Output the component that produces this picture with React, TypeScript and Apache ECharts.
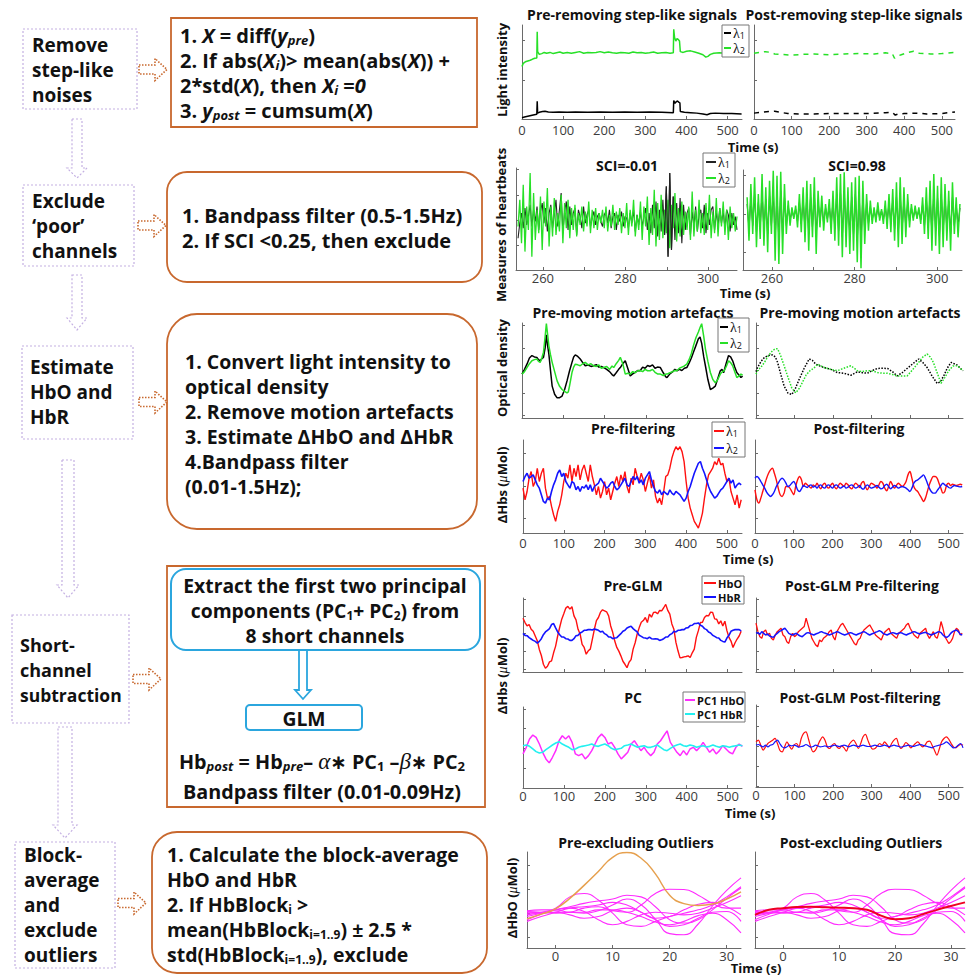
import React, { useEffect, useRef } from "react";
import * as echarts from "echarts";

const FONT = "'Open Sans', 'Noto Sans', 'DejaVu Sans', sans-serif";
const SERIF = "'Liberation Serif', 'DejaVu Serif', serif";

// ---------------- tick values ----------------
const TIME_TICKS = [0, 100, 200, 300, 400, 500];
const HEART_TICKS = [260, 270, 280, 290, 300];
const HEART_LABELS = [260, 280, 300];
const BLOCK_TICKS = [0, 10, 20, 30];

// ---------------- row 1 : light intensity (time s, intensity a.u.) ----------------
const R1_PRE_L2 = [[0,1.34],[3,1.42],[8,1.46],[14,1.48],[20,1.5],[26,1.53],[31,1.55],[36,1.56],[37,2.23],[38,1.72],[42,1.65],[48,1.67],[54,1.7],[60,1.68],[68,1.7],[76,1.67],[84,1.69],[92,1.71],[100,1.68],[110,1.7],[120,1.68],[130,1.7],[140,1.72],[150,1.68],[160,1.7],[170,1.69],[180,1.7],[190,1.72],[200,1.69],[210,1.71],[220,1.69],[230,1.68],[240,1.7],[250,1.69],[260,1.68],[270,1.71],[280,1.69],[290,1.7],[300,1.68],[310,1.69],[320,1.71],[330,1.68],[340,1.69],[350,1.7],[360,1.68],[368,1.69],[369,2.29],[371,2.08],[374,1.99],[377,2.05],[380,2.03],[383,1.99],[385,1.72],[392,1.7],[400,1.73],[410,1.74],[420,1.71],[430,1.68],[440,1.64],[447,1.58],[452,1.6],[458,1.65],[466,1.68],[480,1.69],[495,1.68],[510,1.69],[534,1.68]];
const R1_PRE_L1 = [[0,0.03],[6,0.05],[14,0.07],[22,0.09],[30,0.11],[36,0.12],[37,0.45],[38,0.15],[42,0.17],[50,0.19],[56,0.2],[64,0.18],[76,0.17],[90,0.18],[110,0.17],[130,0.18],[160,0.17],[190,0.18],[220,0.17],[250,0.18],[280,0.17],[310,0.18],[340,0.17],[368,0.16],[369,0.47],[372,0.4],[375,0.44],[378,0.46],[381,0.43],[384,0.41],[385,0.19],[395,0.17],[410,0.16],[425,0.15],[440,0.13],[450,0.11],[458,0.14],[470,0.15],[490,0.14],[510,0.14],[534,0.13]];
const R1_POST_L2 = [[0,1.68],[15,1.7],[30,1.72],[45,1.7],[55,1.66],[70,1.65],[100,1.63],[130,1.65],[160,1.66],[200,1.64],[240,1.66],[280,1.67],[320,1.66],[350,1.69],[368,1.67],[374,1.55],[380,1.6],[392,1.64],[410,1.7],[425,1.73],[440,1.68],[470,1.66],[500,1.67],[535,1.7]];
const R1_POST_L1 = [[0,0.15],[20,0.17],[40,0.19],[55,0.2],[70,0.17],[90,0.14],[120,0.13],[160,0.13],[200,0.14],[250,0.14],[300,0.14],[350,0.16],[368,0.17],[376,0.1],[385,0.13],[400,0.14],[430,0.15],[460,0.13],[500,0.14],[535,0.18]];

// ---------------- row 2 : heartbeat band (evenly sampled over a time span) ----------------
const R2_PRE_SPAN = [254, 307];
const R2_PRE_L1 = [-55,-10,20,-25,35,-15,10,45,-20,30,-5,40,-30,25,50,-10,35,-35,20,45,-25,15,60,-20,30,80,-40,25,55,-30,40,-15,20,35,-45,30,10,-25,40,-10,15,30,-20,5,25,-15,10,20,-5,-20,15,25,-10,30,-25,10,20,-30,15,-5,25,-20,10,5,-25,20,-10,30,-35,15,-15,25,-20,10,35,-30,20,-40,45,-25,55,-50,30,-35,60,-45,100,-110,140,-90,70,-60,50,-40,65,-70,45,-30,20,35,-45,25,-20,40,-35,15,30,-25,45,-40,20,-15,30,40,-30,25,-20,35,-10,25,-25,30,15,-35,20,-15,10,-30];
const R2_PRE_L2 = [-20,60,-70,105,-95,40,-30,140,-110,80,-60,30,-40,70,-90,55,-20,95,-80,40,-50,65,-45,20,-35,75,-70,50,-25,60,-55,35,-30,45,-50,20,-15,40,-35,25,-20,55,-40,30,-25,35,-30,20,-10,30,-25,40,-35,15,-20,45,-30,25,-15,35,-40,20,-25,50,-45,30,-20,60,-50,15,-30,55,-60,40,-20,70,-75,35,-45,90,-80,50,-60,75,-55,30,-40,60,-85,45,-25,80,-65,35,-50,55,-45,25,-30,40,-60,85,-50,30,-35,60,-40,20,-45,50,-30,75,-55,25,-40,65,-50,35,-20,55,-45,30,-60,40,-25,20,-35,10];
const R2_POST_SPAN = [254, 305.5];
const R2_POST_L1 = [30,-45,50,-35,60,-55,35,-40,65,-50,45,-60,55,-35,70,-75,60,-80,70,-65,50,-35,25,-20,12,-10,15,-22,35,-30,45,-48,55,-60,50,-40,60,-65,40,-25,30,-28,18,-15,25,-35,40,-45,60,-52,65,-70,68,-55,45,-65,52,-60,60,-80,62,-88,55,-50,35,-28,22,-18,12,-15,20,-12,10,-18,22,-25,35,-30,42,-45,52,-55,60,-50,45,-38,35,-22,18,-12,15,-10,12,-18,28,-35,45,-42,55,-60,65,-52,48,-65,60,-55,50,-45,40,-60,52,-35,28,-38,18];
const R2_POST_L2 = [50,-80,90,-60,110,-100,60,-75,120,-95,80,-115,100,-60,130,-140,115,-150,127,-120,90,-60,40,-35,20,-15,25,-40,60,-55,80,-85,100,-110,90,-70,110,-120,70,-40,55,-50,30,-25,45,-60,70,-80,110,-95,120,-130,125,-100,80,-120,95,-110,110,-145,115,-163,100,-90,60,-50,40,-30,20,-25,35,-20,15,-30,40,-45,60,-55,75,-80,95,-100,110,-90,80,-70,60,-40,30,-20,25,-15,20,-30,50,-60,80,-75,100,-110,120,-95,85,-120,110,-100,90,-80,70,-110,95,-60,50,-70,30];

// ---------------- row 3 : optical density (time s, OD a.u.) ----------------
const R3_PRE_L1 = [[0,1.84],[6,2.05],[12,2.28],[18,2.55],[24,2.66],[30,2.6],[36,2.58],[40,2.48],[44,2.43],[48,2.52],[52,2.58],[56,3.0],[59,3.58],[62,3.1],[65,2.73],[69,2.0],[73,1.31],[79,0.95],[85,0.79],[91,0.8],[97,0.87],[103,1.15],[109,1.54],[115,1.98],[121,2.36],[125,2.6],[129,2.69],[135,2.62],[141,2.51],[147,2.35],[153,2.21],[160,2.24],[167,2.18],[173,2.21],[180,2.26],[186,2.15],[192,2.18],[198,2.13],[205,2.05],[212,1.95],[218,1.82],[222,1.76],[228,1.9],[234,2.05],[238,2.13],[244,2.3],[250,2.43],[256,2.1],[262,1.76],[268,1.85],[274,1.92],[280,2.0],[286,1.99],[292,2.15],[298,2.1],[304,2.22],[310,2.18],[316,2.25],[322,2.1],[328,2.15],[335,2.13],[342,1.9],[348,1.72],[351,1.69],[358,1.85],[365,1.95],[370,2.05],[375,1.99],[381,2.05],[387,2.0],[393,2.1],[399,2.13],[405,2.35],[410,2.55],[415,2.81],[421,3.1],[427,3.4],[431,3.48],[435,3.2],[440,2.6],[444,2.21],[450,1.6],[456,1.16],[462,1.22],[468,1.31],[474,1.65],[480,1.99],[484,2.05],[488,1.9],[494,2.3],[500,2.66],[505,2.6],[510,2.43],[515,2.15],[520,1.91],[525,1.8],[530,1.69],[534,1.75]];
const R3_PRE_L2 = [[0,1.84],[6,1.95],[12,2.13],[18,2.3],[24,2.43],[30,2.48],[36,2.51],[40,2.4],[44,2.36],[48,2.55],[52,2.81],[56,3.5],[59,4.07],[62,3.6],[65,3.1],[69,2.7],[73,2.36],[79,1.95],[85,1.54],[91,1.3],[97,1.16],[103,1.08],[109,1.01],[112,1.05],[115,1.31],[121,1.91],[125,2.15],[129,2.28],[135,2.25],[141,2.21],[147,2.3],[153,2.36],[160,2.25],[167,2.3],[173,2.21],[180,2.18],[186,2.25],[192,2.1],[198,2.13],[205,2.18],[212,2.05],[218,2.2],[222,2.13],[228,2.3],[234,2.45],[238,2.58],[244,2.3],[250,1.84],[256,1.88],[262,1.84],[268,1.95],[274,1.9],[280,1.99],[286,2.0],[292,1.95],[298,2.05],[304,1.99],[310,1.99],[316,2.05],[322,1.92],[328,1.85],[335,1.84],[342,1.78],[348,1.84],[351,1.84],[358,1.9],[365,1.95],[370,2.0],[375,1.99],[381,2.1],[387,2.15],[393,2.2],[399,2.28],[405,2.5],[410,2.75],[415,3.1],[421,3.45],[427,3.7],[431,3.9],[435,4.07],[440,3.5],[444,2.96],[450,2.4],[456,1.91],[462,1.6],[468,1.46],[474,1.6],[480,1.84],[485,1.95],[490,2.0],[495,2.2],[500,2.43],[505,2.35],[510,2.21],[515,1.95],[520,1.69],[525,1.75],[530,1.84],[534,1.8]];
const R3_POST_L1 = [[0,1.95],[4,2.13],[13,2.4],[22,2.58],[32,2.66],[43,2.69],[50,2.6],[56,2.36],[64,1.85],[73,1.31],[83,1.0],[93,0.94],[102,1.2],[112,1.61],[125,2.1],[138,2.51],[146,2.45],[155,2.28],[166,2.2],[177,2.13],[194,2.05],[211,1.91],[228,1.88],[246,1.79],[263,1.94],[276,1.9],[289,1.88],[302,2.0],[315,2.09],[328,2.1],[341,2.09],[354,1.95],[366,1.76],[379,1.9],[392,2.09],[407,2.3],[422,2.51],[433,2.35],[444,2.13],[457,1.75],[470,1.43],[478,1.5],[487,1.76],[496,2.1],[506,2.36],[514,2.3],[522,2.24],[530,2.1],[537,1.99]];
const R3_POST_L2 = [[0,1.84],[4,1.99],[13,2.15],[22,2.36],[32,2.65],[43,2.88],[50,2.96],[56,2.96],[64,2.65],[73,2.21],[83,1.7],[93,1.22],[103,1.01],[112,1.2],[120,1.46],[130,1.8],[140,1.99],[150,2.1],[160,2.28],[177,2.13],[194,2.05],[211,1.99],[228,2.1],[246,2.21],[255,2.1],[263,1.99],[276,1.95],[289,1.99],[302,1.98],[315,1.91],[328,1.88],[341,1.88],[354,1.82],[366,1.76],[379,1.76],[392,1.76],[407,2.05],[422,2.36],[433,2.6],[444,2.73],[452,2.6],[460,2.36],[470,1.9],[480,1.43],[490,1.7],[500,1.99],[511,2.2],[522,2.21],[530,2.1],[537,1.99]];

// ---------------- row 4 : ΔHbs before / after filtering (one sample every 5 s) ----------------
const R4_DT = 5;
const R4_PRE_L1 = [-5,-40,-15,25,45,0,15,55,15,40,55,-5,-35,-30,-60,-85,-105,-75,-55,-25,15,40,25,65,15,55,30,65,20,50,65,40,15,65,30,5,-25,0,-35,-15,15,-25,-5,-40,-15,10,30,0,35,15,45,0,-20,25,5,55,30,15,40,20,-15,10,35,-5,20,-30,-50,-35,-55,-15,30,35,55,85,105,120,110,120,105,75,15,-35,-65,-85,-105,-115,-125,-105,-80,-35,5,35,45,55,75,65,85,65,70,40,15,25,-15,-35,-55,-25,-65,-40];
const R4_PRE_L2 = [15,30,40,25,30,35,20,5,-5,-25,-45,-50,-35,-40,-15,5,20,40,50,30,40,15,5,-5,15,10,-10,0,-15,0,-5,5,-10,5,-15,0,5,10,25,15,5,-5,0,10,15,0,-10,-5,5,15,25,5,0,15,30,20,30,10,20,5,25,35,45,20,0,-15,-20,-10,-25,-15,-20,-25,-10,-20,-25,-15,-20,-25,-35,-45,-35,-15,0,20,40,55,70,75,55,40,20,0,-15,-25,-35,-30,-20,-10,-5,5,15,25,10,20,-5,5,10,5];
const R4_POST_L1 = [-10,-40,-50,-35,-15,5,25,40,50,55,40,20,-5,-25,-30,-20,0,0,-5,-15,-25,0,20,30,20,0,10,5,0,-5,5,0,10,0,-7,5,10,0,-5,3,10,0,-7,2,10,5,0,10,5,-3,-7,3,10,5,-3,10,15,0,-10,0,10,7,3,-5,5,15,10,-5,-13,0,15,5,-5,3,10,5,0,5,15,35,45,25,0,-10,-15,-25,-35,-45,-35,-15,5,20,30,30,25,10,-5,-20,-15,5,10,3,7,5,3,5,7,5];
const R4_POST_L2 = [25,30,25,15,5,-5,-17,-25,-30,-25,-15,0,10,20,25,20,10,0,3,10,15,5,-10,-15,-7,3,0,-3,3,5,-2,2,-5,2,5,-2,-5,2,5,0,-5,2,5,0,-5,-2,2,-5,-2,3,5,0,-5,-2,3,-5,-8,0,5,0,-5,-3,0,3,-2,-7,-5,3,7,0,-7,-2,3,0,-5,-2,0,-2,-5,-10,-15,-5,10,17,20,25,30,35,25,10,-5,-15,-20,-20,-13,-5,3,10,5,2,-3,-5,0,3,1,0,-1,0];

// ---------------- row 5 : HbO / HbR before and after GLM (one sample every 5 s) ----------------
const R5_DT = 5;
const R5_PRE_HBO = [45,32,22,26,12,6,-8,-22,-48,-66,-92,-104,-98,-85,-82,-58,-38,-8,18,42,58,75,80,72,79,52,40,12,-2,-33,-42,-62,-52,-47,-18,12,38,47,63,70,67,64,52,22,3,-23,-42,-53,-67,-83,-92,-102,-86,-78,-47,-28,-2,17,33,38,47,32,57,48,62,63,58,68,67,76,86,68,57,28,12,-27,-52,-73,-72,-70,-69,-67,-72,-58,-47,-12,8,32,33,47,53,52,63,62,43,42,28,37,22,36,8,-12,-23,-42,-28,-17,-8,6];
const R5_PRE_HBR = [0,-6,-7,-13,-17,-21,-24,-29,-24,-16,-4,4,9,14,26,29,16,4,-4,-11,-11,-16,-17,-21,-21,-16,-7,-6,1,4,9,9,11,11,10,13,11,9,4,6,-1,-4,-11,-11,-16,-14,-13,-7,-1,6,9,16,19,21,14,9,4,-6,-9,-13,-14,-16,-11,-16,-17,-16,-17,-21,-19,-16,-11,-11,-4,-1,6,4,9,9,11,11,16,17,23,24,29,29,31,24,21,14,11,4,1,-6,-9,-13,-14,-21,-24,-26,-14,-6,6,9,11,11,11,7];
const R5_POST_HBO = [30,5,-10,-15,5,10,-5,0,-15,-20,-5,5,10,15,-5,-10,-25,-30,-10,0,-10,-5,5,10,15,20,45,25,5,-15,-25,-35,-40,-20,-25,-15,-10,-5,5,10,-10,-20,5,15,25,30,20,10,0,-10,-20,-30,-35,-20,-15,0,10,15,20,25,15,5,-5,-10,-15,-20,-5,5,10,15,0,-5,-10,-15,0,5,10,15,25,30,15,5,-5,-10,-15,0,5,10,15,-5,-15,-5,5,-10,-15,5,35,15,-10,-20,-30,-25,-15,5,15,10,-5,0];
const R5_POST_HBR = [0,2,-3,5,0,-5,-2,-8,-10,-12,-5,0,5,8,12,15,8,0,-3,-5,-2,0,-5,-8,-10,-5,0,2,0,-3,-5,-2,0,3,5,2,0,-2,-5,-3,0,2,5,3,0,-3,-5,-3,0,2,0,-3,-5,-2,0,3,5,2,-2,-5,-2,0,3,5,8,5,0,-3,-5,-2,0,2,0,-2,0,2,0,-3,-5,-2,0,3,5,3,0,-2,0,2,3,0,-3,-5,-2,0,3,5,2,-5,-10,-12,-8,0,5,8,10,5,-3,-5];

// ---------------- row 6 : principal components and post-GLM filtered signals ----------------
const R6_PC_DT = 8;
const R6_PC_HBO = [-17,3,28,40,33,13,-12,-32,-44,-27,-7,23,38,28,38,18,-17,-22,-17,-32,-22,-7,13,33,43,33,13,18,3,-17,-32,-22,-12,13,23,8,-7,3,-12,-22,-12,13,23,38,53,18,3,-12,-22,-7,-20,-2,3,-7,3,18,3,-12,-2,-17,-7,8,-2,-12,-17,3,13,6];
const R6_PC_HBR = [8,10,6,-2,-10,-14,-12,-4,3,10,16,20,13,8,3,-4,-2,3,6,8,10,13,8,6,10,13,8,0,-4,-2,0,8,10,13,8,3,6,8,3,3,6,10,3,-4,-7,0,6,10,13,8,6,10,8,3,6,8,4,6,10,6,3,8,6,3,6,8,10,8];
const R6_POST_SPAN = [0, 537];
const R6_POST_HBO = [13,18,3,-12,-2,8,13,18,23,8,-12,-17,-2,13,1,-9,3,8,-2,23,38,43,23,-2,-17,-12,3,18,28,18,-2,-7,3,8,-2,-7,1,-5,-15,3,13,18,8,-7,8,28,35,18,1,-9,-7,1,8,3,13,5,-5,8,18,23,3,-7,1,11,5,-5,1,8,13,5,-2,3,13,15,3,-12,-27,-9,13,23,28,21,8,-2,-5,1,5,3];
const R6_POST_HBR = [3,5,1,-2,3,-2,3,5,13,18,8,-2,-5,-2,3,1,3,1,-3,-1,1,5,1,-3,-1,3,1,-2,-1,1,-2,-1,1,3,1,-1,1,3,1,-2,1,3,1,-1,1,3,1,-1,-1,1,3,1,-1,1,3,1,-1,1,3,1,-1,-3,-1,1,3,1,-1,1,3,5,3,1,-1,-3,-5,-1,1,3,5,8,13,8,1,-5,-3,3,8,-5];

// ---------------- row 7 : block averages (time s relative to onset) ----------------
const BLOCK_T = [-5,-2.5,0,2.5,5,7.5,10,12.5,15,17.5,20,22.5,25,27.5,30,32.5];
const BLOCK_1 = [0.93,1.04,1.21,1.68,1.82,1.55,1.0,0.52,0.45,0.66,0.86,1.0,1.14,1.34,1.68,2.1];
const BLOCK_2 = [0.73,0.96,1.14,1.27,1.41,1.51,1.59,1.75,1.68,1.27,0.73,0.59,0.73,1.14,1.62,2.05];
const BLOCK_3 = [1.07,1.04,1.0,1.04,1.21,1.27,1.1,1.04,1.34,1.82,2.0,1.99,1.75,1.41,1.21,1.21];
const BLOCK_4 = [0.86,1.0,1.14,1.21,1.07,0.73,0.52,0.66,0.93,1.04,1.0,0.93,1.0,1.21,1.45,1.73];
const BLOCK_5 = [1.0,1.0,1.04,1.04,1.0,1.1,1.34,1.59,1.35,0.75,0.15,0.1,0.55,1.3,1.95,2.47];
const BLOCK_6 = [0.66,0.86,1.04,1.21,1.27,1.34,1.45,1.34,1.04,0.79,0.86,1.14,1.37,1.45,1.27,0.93];
const BLOCK_7 = [1.04,1.03,1.04,0.93,0.79,0.86,1.1,1.21,1.04,0.73,0.45,0.52,0.79,1.04,1.07,0.66];
const BLOCK_8 = [1.1,1.14,1.14,1.04,1.04,1.14,1.14,1.04,0.86,0.63,0.52,0.66,0.9,1.0,0.73,0.18];
const BLOCK_OUTLIER = [0.77,0.96,1.18,1.62,2.16,2.74,3.33,3.53,3.29,2.64,1.75,1.4,1.32,1.38,1.59,1.89];
const BLOCK_MEAN = [0.93,1.14,1.21,1.26,1.27,1.25,1.23,1.21,1.14,0.9,0.75,0.79,0.96,1.14,1.3,1.45];
const BLOCKS = [BLOCK_1, BLOCK_2, BLOCK_3, BLOCK_4, BLOCK_5, BLOCK_6, BLOCK_7, BLOCK_8];

// ---------------- helpers ----------------
const seq = (vals: number[], dt: number, t0 = 0) => vals.map((v, i) => [t0 + i * dt, v]);
const spread = (vals: number[], span: number[]) =>
  vals.map((v, i) => [span[0] + (i * (span[1] - span[0])) / (vals.length - 1), v]);
const onT = (vals: number[]) => vals.map((v, i) => [BLOCK_T[i], v]);

const AX = "#6a6a6a";
const GREEN = "#27e027";
const RED = "#ff1010";
const BLUE = "#1414ff";
const MAGENTA = "#ff2cff";
const CYAN = "#22f0f0";
const PURPLE = "#c4b0e2";
const ORANGE = "#c8682e";
const SKY = "#2ba6de";

// grid boxes [left, top, width, height]
const GRID_BOXES = [
  [522, 25, 220, 94], [754, 25, 201, 94],
  [516, 168, 221, 102], [743, 170, 219, 100],
  [522, 323, 221, 95], [756, 323, 207, 95],
  [523, 440, 219, 93], [755, 440, 208, 93],
  [523, 598, 219, 74], [756, 598, 207, 74],
  [523, 707, 219, 81], [756, 705, 207, 82],
  [527, 852, 214, 96], [755, 852, 210, 96],
];

const xA = (g: number, min: number, max: number, ticks: number[], labels: number[], margin = 3) => ({
  type: "value", gridIndex: g, min, max,
  axisLine: { show: true, onZero: false, lineStyle: { color: AX, width: 1 } },
  axisTick: { show: true, inside: true, length: 3, customValues: ticks, lineStyle: { color: AX } },
  axisLabel: { show: labels.length > 0, customValues: labels, color: "#3c3c3c", fontSize: 13, lineHeight: 14, fontFamily: FONT, margin },
  splitLine: { show: false },
});
const yA = (g: number, min: number, max: number, ticks: number[]) => ({
  type: "value", gridIndex: g, min, max,
  axisLine: { show: true, onZero: false, lineStyle: { color: AX, width: 1 } },
  axisTick: { show: true, inside: true, length: 3, customValues: ticks, lineStyle: { color: AX } },
  axisLabel: { show: false },
  splitLine: { show: false },
});

const ln = (g: number, data: number[][], color: string, width = 1.3, extra: any = {}) => ({
  type: "line", xAxisIndex: g, yAxisIndex: g, data, symbol: "none", showSymbol: false, silent: true,
  smooth: extra.smooth || false, clip: true, z: extra.z || 2,
  emphasis: { disabled: true },
  lineStyle: { color, width, type: extra.type || "solid" },
});

// ---------------- flowchart graphic helpers ----------------
const LH = 22;
const richFor = (fs: number): any => ({
  i: { fontSize: fs, fontWeight: "bold", fontStyle: "italic", fontFamily: FONT, fill: "#111", lineHeight: LH },
  s: { fontSize: Math.round(fs * 0.64), fontWeight: "bold", fontFamily: FONT, fill: "#111", lineHeight: 5, verticalAlign: "bottom" },
  si: { fontSize: Math.round(fs * 0.64), fontWeight: "bold", fontStyle: "italic", fontFamily: FONT, fill: "#111", lineHeight: 5, verticalAlign: "bottom" },
  g: { fontSize: Math.round(fs * 1.15), fontStyle: "italic", fontFamily: SERIF, fill: "#111", lineHeight: LH },
});
const txt = (x: number, y: number, text: string, fs = 19, align = "left") => ({
  type: "text", x, y, silent: true, z: 30,
  style: { text, fill: "#111", fontSize: fs, fontWeight: "bold", fontFamily: FONT, lineHeight: LH, align, verticalAlign: "middle", rich: richFor(fs) },
});
const SMALL_RICH: any = {
  m: { fontSize: 14, fontStyle: "italic", fontFamily: SERIF, fill: "#111", lineHeight: 14 },
  l: { fontSize: 14, fontFamily: SERIF, fill: "#111", lineHeight: 13 },
  s: { fontSize: 9, fontFamily: FONT, fill: "#111", lineHeight: 5, verticalAlign: "bottom" },
};
const small = (x: number, y: number, text: string, opts: any = {}) => ({
  type: "text", x, y, rotation: opts.rot || 0, silent: true, z: 30,
  style: { text, fill: "#111", fontSize: opts.fs || 13, lineHeight: (opts.fs || 13) + 1, fontWeight: opts.weight || "bold", fontFamily: FONT, align: opts.align || "center", verticalAlign: "middle", rich: SMALL_RICH },
});
const title = (x: number, y: number, text: string) => small(x, y, text, { fs: 14 });
const rect = (x: number, y: number, w: number, h: number, stroke: string, opts: any = {}) => ({
  type: "rect", silent: true, z: opts.z || 10,
  shape: { x, y, width: w, height: h, r: opts.r || 0 },
  style: { fill: opts.fill || "#fff", stroke, lineWidth: opts.lw || 1.8, lineDash: opts.dash || null },
});
const poly = (points: number[][], stroke: string, dash: number[] | null, lw = 1.3, z = 12) => ({
  type: "polygon", silent: true, z,
  shape: { points },
  style: { fill: "#fff", stroke, lineWidth: lw, lineDash: dash },
});
const downArrow = (x1: number, x2: number, y0: number, yh: number, tip: number, w: number) =>
  poly([[x1, y0], [x2, y0], [x2, yh], [x2 + w, yh], [(x1 + x2) / 2, tip], [x1 - w, yh], [x1, yh]], PURPLE, [2, 2], 1.2);
const rightArrow = (x0: number, cy: number) =>
  poly([[x0, cy - 4.5], [x0 + 16, cy - 4.5], [x0 + 16, cy - 11], [x0 + 28, cy], [x0 + 16, cy + 11], [x0 + 16, cy + 4.5], [x0, cy + 4.5]], ORANGE, [1.5, 1.5], 1.6);

const legendBox = (x: number, y: number, w: number, h: number, items: { c: string; t: string; y: number }[], lx: number, len: number, tx: number, fs = 13) => {
  const out: any[] = [rect(x, y, w, h, "#777", { lw: 1, z: 40 })];
  items.forEach((it) => {
    out.push({ type: "line", silent: true, z: 41, shape: { x1: lx, y1: it.y, x2: lx + len, y2: it.y }, style: { stroke: it.c, lineWidth: 2 } });
    out.push({ ...small(tx, it.y, it.t, { align: "left", fs, weight: fs < 13 ? "bold" : "normal" }), z: 42 });
  });
  return out;
};

function buildGraphic() {
  const el: any[] = [];
  // ---- left: process boxes ----
  el.push(rect(23, 29, 114, 80, PURPLE, { lw: 1.2, dash: [2, 2] }));
  el.push(txt(32, 45, "Remove"), txt(32, 70, "step-like"), txt(32, 95, "noises"));
  el.push(rect(23, 185, 111, 81, PURPLE, { lw: 1.2, dash: [2, 2] }));
  el.push(txt(32, 201, "Exclude"), txt(32, 226, "‘poor’"), txt(32, 251, "channels"));
  el.push(rect(22, 346, 111, 93, PURPLE, { lw: 1.2, dash: [2, 2] }));
  el.push(txt(30, 367, "Estimate"), txt(30, 392, "HbO and"), txt(30, 417, "HbR"));
  el.push(rect(12, 615, 117, 108, PURPLE, { lw: 1.2, dash: [2, 2] }));
  el.push(txt(20, 645, "Short-", 18), txt(20, 670, "channel", 18), txt(20, 695, "subtraction", 17.5));
  el.push(rect(15, 842, 100, 126, PURPLE, { lw: 1.2, dash: [2, 2] }));
  el.push(txt(24, 855, "Block-"), txt(24, 880, "average"), txt(24, 905, "and"), txt(24, 930, "exclude"), txt(24, 955, "outliers"));
  // down arrows
  el.push(downArrow(72, 82, 119, 168, 178, 5));
  el.push(downArrow(72, 82, 275, 318, 330, 5));
  el.push(downArrow(62, 74, 460, 585, 598, 5));
  el.push(downArrow(58, 72, 727, 825, 838, 5));
  // dotted right arrows
  el.push(rightArrow(139, 69.5), rightArrow(138, 225.5), rightArrow(139, 402), rightArrow(133, 679), rightArrow(118, 903));
  // ---- description boxes ----
  el.push(rect(171, 18, 306, 109, ORANGE));
  el.push(txt(180, 35, "1. {i|X} = diff({i|y}{si|pre})", 20));
  el.push(txt(180, 60, "2. If abs({i|X}{si|i})> mean(abs({i|X})) +", 20));
  el.push(txt(180, 85, "2*std({i|X}), then {i|X}{si|i} ={i|0}", 20));
  el.push(txt(180, 110, "3. {i|y}{si|post} = cumsum({i|X})", 20));

  el.push(rect(167, 172, 315, 110, ORANGE, { r: 20 }));
  el.push(txt(182, 215, "1. Bandpass filter (0.5-1.5Hz)", 20));
  el.push(txt(182, 240, "2. If SCI <0.25, then exclude", 20));

  el.push(rect(167, 314, 310, 215, ORANGE, { r: 30 }));
  el.push(txt(185, 361, "1. Convert light intensity to", 19.5));
  el.push(txt(185, 386, "optical density", 19.5));
  el.push(txt(185, 411, "2. Remove motion artefacts", 19.5));
  el.push(txt(185, 436, "3. Estimate ∆HbO and ∆HbR", 19.5));
  el.push(txt(185, 461, "4.Bandpass filter", 19.5));
  el.push(txt(185, 486, "(0.01-1.5Hz);", 19.5));

  el.push(rect(167, 566, 318, 241, ORANGE));
  el.push(rect(171, 569, 309, 81, SKY, { r: 15, lw: 2, z: 11 }));
  el.push(txt(325, 585, "Extract the first two principal", 19.3, "center"));
  el.push(txt(325, 610, "components (PC{s|1}+ PC{s|2}) from", 19.3, "center"));
  el.push(txt(325, 635, "8 short channels", 19.3, "center"));
  el.push(poly([[299, 650], [307, 650], [307, 690], [311, 690], [303, 699], [295, 690], [299, 690]], SKY, null, 1.8, 12));
  el.push(rect(246, 705, 116, 25, SKY, { r: 4, lw: 2, z: 11 }));
  el.push(txt(304, 718, "GLM", 19.3, "center"));
  el.push(txt(322, 761, "Hb{si|post} = Hb{si|pre}– {g|α}∗ PC{s|1} –{g|β}∗ PC{s|2}", 19.8, "center"));
  el.push(txt(322, 791, "Bandpass filter (0.01-0.09Hz)", 19.8, "center"));

  el.push(rect(152, 832, 335, 141, ORANGE, { r: 25 }));
  el.push(txt(167, 854, "1. Calculate the block-average", 19.5));
  el.push(txt(167, 879, "HbO and HbR", 19.5));
  el.push(txt(167, 904, "2. If HbBlock{s|i} >", 19.5));
  el.push(txt(167, 929, "mean(HbBlock{s|i=1..9}) ± 2.5 *", 19.5));
  el.push(txt(167, 954, "std(HbBlock{s|i=1..9}), exclude", 19.5));

  // ---- chart titles ----
  el.push(title(632, 14, "Pre-removing step-like signals"), title(854, 14, "Post-removing step-like signals"));
  el.push(title(627, 165, "SCI=-0.01"), title(857, 165, "SCI=0.98"));
  el.push(title(633, 312, "Pre-moving motion artefacts"), title(860, 312, "Pre-moving motion artefacts"));
  el.push(title(633, 428, "Pre-filtering"), title(859, 428, "Post-filtering"));
  el.push(title(633, 585, "Pre-GLM"), title(862, 585, "Post-GLM Pre-filtering"));
  el.push(title(633, 697, "PC"), title(860, 697, "Post-GLM Post-filtering"));
  el.push(title(636, 842, "Pre-excluding Outliers"), title(861, 842, "Post-excluding Outliers"));
  // axis names
  el.push(small(753, 147, "Time (s)"), small(745, 293, "Time (s)"), small(748, 559, "Time (s)"), small(750, 813, "Time (s)"), small(756, 968, "Time (s)"));
  const R = Math.PI / 2;
  el.push(small(502, 70, "Light intensity", { rot: R }));
  el.push(small(501, 225, "Measures of heartbeats", { rot: R }));
  el.push(small(502, 368, "Optical density", { rot: R }));
  el.push(small(502, 485, "ΔHbs ({m|μ}Mol)", { rot: R }));
  el.push(small(502, 676, "ΔHbs ({m|μ}Mol)", { rot: R }));
  el.push(small(512, 898, "ΔHbO ({m|μ}Mol)", { rot: R }));
  // legends
  const lam = (n: number) => `{l|λ}{s|${n}}`;
  el.push(...legendBox(722, 25, 27, 32, [{ c: "#000", t: lam(1), y: 33 }, { c: GREEN, t: lam(2), y: 48 }], 724, 7, 733));
  el.push(...legendBox(703, 153, 32, 34, [{ c: "#222", t: lam(1), y: 162 }, { c: GREEN, t: lam(2), y: 178 }], 706, 10, 718));
  el.push(...legendBox(718, 318, 31, 34, [{ c: "#000", t: lam(1), y: 327 }, { c: GREEN, t: lam(2), y: 343 }], 720, 8, 730));
  el.push(...legendBox(712, 422, 33, 35, [{ c: RED, t: lam(1), y: 431 }, { c: BLUE, t: lam(2), y: 448 }], 714, 10, 726));
  el.push(...legendBox(702, 576, 42, 28, [{ c: RED, t: "HbO", y: 583 }, { c: BLUE, t: "HbR", y: 597 }], 704, 12, 718, 11));
  el.push(...legendBox(683, 692, 62, 30, [{ c: MAGENTA, t: "PC1 HbO", y: 700 }, { c: CYAN, t: "PC1 HbR", y: 714 }], 685, 10, 697, 11));
  return el;
}

function buildOption() {
  const grid = GRID_BOXES.map(([l, t, w, h]) => ({ left: l, top: t, width: w, height: h, containLabel: false, outerBoundsMode: "none", show: false }));
  const xAxis = [
    xA(0, 0, 535, TIME_TICKS, TIME_TICKS, 4), xA(1, 0, 535, TIME_TICKS, TIME_TICKS, 4),
    xA(2, 253.5, 307, HEART_TICKS, HEART_LABELS, 1), xA(3, 253, 306, HEART_TICKS, HEART_LABELS, 1),
    xA(4, 0, 535, TIME_TICKS, []), xA(5, 0, 537, TIME_TICKS, []),
    xA(6, 0, 537, TIME_TICKS, TIME_TICKS, 3), xA(7, 0, 537, TIME_TICKS, TIME_TICKS, 3),
    xA(8, 0, 537, TIME_TICKS, []), xA(9, 0, 537, TIME_TICKS, []),
    xA(10, 0, 535, TIME_TICKS, TIME_TICKS, 1), xA(11, 0, 537, TIME_TICKS, TIME_TICKS, 1),
    xA(12, -5, 32.5, BLOCK_TICKS, BLOCK_TICKS, 1), xA(13, -5, 32.5, BLOCK_TICKS, BLOCK_TICKS, 1),
  ];
  const yAxis = [
    yA(0, 0, 2.4, [0, 1, 2]), yA(1, 0, 2.4, [0, 1, 2]),
    yA(2, -150, 155, [-150, -75, 0, 75, 150]), yA(3, -168, 132, [-115, 0, 115]),
    yA(4, -0.1, 4.1, [0, 1, 2, 3, 4]), yA(5, -0.1, 4.1, [0, 1, 2, 3, 4]),
    yA(6, -140, 140, [-95, 0, 100]), yA(7, -140, 140, [-95, 0, 100]),
    yA(8, -115, 105, [-108, -53, 0, 50, 102]), yA(9, -115, 105, [-108, -53, 0, 50, 102]),
    yA(10, -120, 125, [-120, -60, 0, 60, 118]), yA(11, -122, 123, [-120, -60, 0, 60, 118]),
    yA(12, -0.45, 3.55, [0, 1, 2, 3]), yA(13, -0.45, 3.55, [0, 1, 2, 3]),
  ];
  const preHeartBlack = spread(R2_PRE_L1, R2_PRE_SPAN);
  const series: any[] = [
    ln(0, R1_PRE_L1, "#000", 1.5), ln(0, R1_PRE_L2, GREEN, 1.5),
    ln(1, R1_POST_L1, "#000", 1.5, { type: [5, 5] }), ln(1, R1_POST_L2, GREEN, 1.5, { type: [5, 5] }),
    ln(2, preHeartBlack, "#222", 1.1), ln(2, spread(R2_PRE_L2, R2_PRE_SPAN), GREEN, 1.3),
    ln(2, preHeartBlack.slice(85, 91), "#222", 1.1, { z: 3 }),
    ln(3, spread(R2_POST_L1, R2_POST_SPAN), "#222", 1.1), ln(3, spread(R2_POST_L2, R2_POST_SPAN), GREEN, 1.5),
    ln(4, R3_PRE_L1, "#000", 1.5), ln(4, R3_PRE_L2, GREEN, 1.5),
    ln(5, R3_POST_L1, "#000", 1.5, { type: [1.5, 1.5] }), ln(5, R3_POST_L2, GREEN, 1.5, { type: [1.5, 1.5] }),
    ln(6, seq(R4_PRE_L1, R4_DT), RED, 1.4), ln(6, seq(R4_PRE_L2, R4_DT), BLUE, 1.6),
    ln(7, seq(R4_POST_L1, R4_DT), RED, 1.4, { smooth: 0.3 }), ln(7, seq(R4_POST_L2, R4_DT), BLUE, 1.4, { smooth: 0.3 }),
    ln(8, seq(R5_PRE_HBO, R5_DT), RED, 1.4), ln(8, seq(R5_PRE_HBR, R5_DT), BLUE, 1.6),
    ln(9, seq(R5_POST_HBO, R5_DT), RED, 1.3), ln(9, seq(R5_POST_HBR, R5_DT), BLUE, 1.5),
    ln(10, seq(R6_PC_HBO, R6_PC_DT), MAGENTA, 1.5), ln(10, seq(R6_PC_HBR, R6_PC_DT), CYAN, 1.6),
    ln(11, spread(R6_POST_HBO, R6_POST_SPAN), RED, 1.2, { smooth: 0.3 }), ln(11, spread(R6_POST_HBR, R6_POST_SPAN), BLUE, 1.2, { smooth: 0.3 }),
  ];
  BLOCKS.forEach((b) => series.push(ln(12, onT(b), MAGENTA, 1.1, { smooth: 0.5 })));
  series.push(ln(12, onT(BLOCK_OUTLIER), "#e6a04e", 1.5, { smooth: 0.5, z: 3 }));
  BLOCKS.forEach((b) => series.push(ln(13, onT(b), MAGENTA, 1.1, { smooth: 0.5 })));
  series.push(ln(13, onT(BLOCK_MEAN), "#ee0022", 2, { smooth: 0.5, z: 3 }));

  return {
    animation: false,
    backgroundColor: "#ffffff",
    textStyle: { fontFamily: FONT },
    grid, xAxis, yAxis, series,
    graphic: { elements: buildGraphic() },
  };
}

export default function App() {
  const ref = useRef<HTMLDivElement>(null);
  useEffect(() => {
    if (!ref.current) return;
    const chart = echarts.init(ref.current, null, { renderer: "svg" });
    chart.setOption(buildOption() as any);
    return () => chart.dispose();
  }, []);
  return (
    <div
      ref={ref}
      style={{ position: "fixed", left: 0, top: 0, width: 974, height: 976, background: "#fff" }}
    />
  );
}
